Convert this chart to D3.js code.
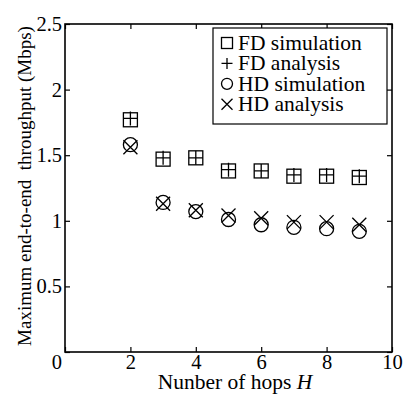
<!DOCTYPE html>
<html>
<head>
<meta charset="utf-8">
<script src="https://cdn.jsdelivr.net/npm/d3@7"></script>
<style>
  body { margin: 0; background: #fff; }
  svg { display: block; font-family: "Liberation Serif", "Times New Roman", serif; }
</style>
</head>
<body>
<svg id="chart" width="412" height="396"></svg>
<script>
// hop counts and throughput values
const hops = [2, 3, 4, 5, 6, 7, 8, 9];
const fdSimulation = [1.77, 1.47, 1.48, 1.38, 1.38, 1.34, 1.34, 1.33];
const fdAnalysis   = [1.78, 1.48, 1.48, 1.39, 1.38, 1.35, 1.35, 1.34];
const hdSimulation = [1.58, 1.14, 1.07, 1.01, 0.97, 0.95, 0.94, 0.92];
const hdAnalysis   = [1.56, 1.13, 1.08, 1.04, 1.02, 0.99, 0.99, 0.97];
const xTicks = [0, 2, 4, 6, 8, 10];
const yTicks = [0, 0.5, 1, 1.5, 2, 2.5];
const legendLabels = ["FD simulation", "FD analysis", "HD simulation", "HD analysis"];

const svg = d3.select("#chart");
const plotLeft = 65, plotRight = 392, plotTop = 24, plotBottom = 352;

const x = d3.scaleLinear().domain([0, 10]).range([plotLeft, plotRight]);
const y = d3.scaleLinear().domain([0, 2.5]).range([plotBottom, plotTop]);

// axes with inward ticks
svg.append("g").attr("transform", `translate(0,${plotBottom})`)
  .call(d3.axisBottom(x).tickValues(xTicks).tickSize(-5).tickPadding(2)
    .tickFormat(d => d === 0 ? "" : d));
svg.append("g").attr("transform", `translate(${plotLeft},0)`)
  .call(d3.axisLeft(y).tickValues(yTicks).tickSize(-5).tickPadding(3).tickFormat(d => d));
svg.append("g").attr("transform", `translate(0,${plotTop})`)
  .call(d3.axisTop(x).tickValues(xTicks).tickSize(-5).tickFormat(""));
svg.append("g").attr("transform", `translate(${plotRight},0)`)
  .call(d3.axisRight(y).tickValues(yTicks).tickSize(-5).tickFormat(""));

svg.selectAll(".domain").remove();
svg.selectAll(".tick line").attr("stroke", "#000").attr("stroke-width", 1.2);
svg.selectAll(".tick text").attr("fill", "#000").attr("font-size", 20.5)
  .attr("font-family", "Liberation Serif, serif");
// MATLAB-style corner zero sits a little lower
svg.selectAll(".tick text").filter(d => d === 0).attr("dy", "0.8em");

svg.append("rect")
  .attr("x", plotLeft).attr("y", plotTop)
  .attr("width", plotRight - plotLeft).attr("height", plotBottom - plotTop)
  .attr("fill", "none").attr("stroke", "#000").attr("stroke-width", 1.6);

// axis titles
const xt = svg.append("text")
  .attr("x", 235).attr("y", 389)
  .attr("text-anchor", "middle").attr("font-size", 21.5);
xt.append("tspan").text("Nunber of hops ");
xt.append("tspan").attr("font-style", "italic").text("H");

svg.append("text")
  .attr("transform", `translate(31,186) rotate(-90)`)
  .attr("text-anchor", "middle").attr("font-size", 19)
  .style("white-space", "pre")
  .text("Maximum end-to-end  throughput (Mbps)");

// marker drawing helpers
function square(g, cx, cy, s) {
  g.append("rect").attr("x", cx - s / 2).attr("y", cy - s / 2)
    .attr("width", s).attr("height", s)
    .attr("fill", "none").attr("stroke", "#000").attr("stroke-width", 1.3);
}
function plus(g, cx, cy, s) {
  g.append("path")
    .attr("d", `M${cx - s / 2},${cy}H${cx + s / 2}M${cx},${cy - s / 2}V${cy + s / 2}`)
    .attr("stroke", "#000").attr("stroke-width", 1.3).attr("fill", "none");
}
function circle(g, cx, cy, s) {
  g.append("circle").attr("cx", cx).attr("cy", cy).attr("r", s / 2)
    .attr("fill", "none").attr("stroke", "#000").attr("stroke-width", 1.3);
}
function cross(g, cx, cy, s) {
  const h = s / 2;
  g.append("path")
    .attr("d", `M${cx - h},${cy - h}L${cx + h},${cy + h}M${cx - h},${cy + h}L${cx + h},${cy - h}`)
    .attr("stroke", "#000").attr("stroke-width", 1.3).attr("fill", "none");
}

const series = [
  { values: fdSimulation, draw: square },
  { values: fdAnalysis, draw: plus },
  { values: hdSimulation, draw: circle },
  { values: hdAnalysis, draw: cross }
];

const marks = svg.append("g");
series.forEach(s => {
  hops.forEach((h, i) => s.draw(marks, x(h), y(s.values[i]), 14));
});

// legend
const legend = svg.append("g");
legend.append("rect")
  .attr("x", 213).attr("y", 28).attr("width", 174).attr("height", 96)
  .attr("fill", "#fff").attr("stroke", "#000").attr("stroke-width", 1.2);
legendLabels.forEach((label, i) => {
  const cy = 43 + i * 20.4;
  series[i].draw(legend, 227, cy, 11);
  legend.append("text")
    .attr("x", 238).attr("y", cy + 7)
    .attr("font-size", 21.5)
    .text(label);
});
</script>
</body>
</html>
